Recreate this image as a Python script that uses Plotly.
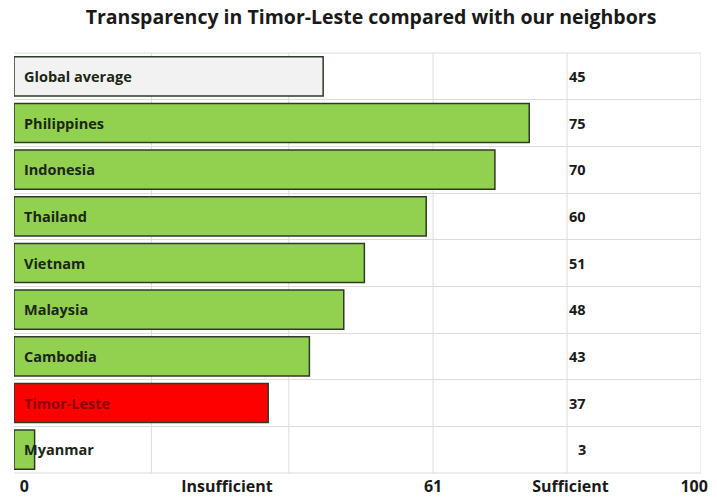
import plotly.graph_objects as go

countries = ["Global average", "Philippines", "Indonesia", "Thailand", "Vietnam",
             "Malaysia", "Cambodia", "Timor-Leste", "Myanmar"]
scores = [45, 75, 70, 60, 51, 48, 43, 37, 3]
fill_colors = ["#f2f2f2", "#92d050", "#92d050", "#92d050", "#92d050",
               "#92d050", "#92d050", "#ff0000", "#92d050"]
label_colors = ["#1c2616"] * 7 + ["#8b0000", "#1c2616"]
tick_vals = [1.5, 31, 61, 81, 99]
tick_text = ["0", "Insufficient", "61", "Sufficient", "100"]
grid_x = [20, 40, 61, 80.5, 100]
value_col_x = 83.5

rows = list(range(len(countries)))

fig = go.Figure()
fig.add_trace(go.Bar(
    x=scores, y=rows, orientation="h", width=0.84,
    marker=dict(color=fill_colors, line=dict(color="#2f3a2a", width=1.5)),
    hoverinfo="skip", showlegend=False,
))

annotations = []
for i, (name, val, col) in enumerate(zip(countries, scores, label_colors)):
    annotations.append(dict(x=0, y=i, xref="x", yref="y", text="<b>" + name + "</b>",
                            showarrow=False, xanchor="left", xshift=8,
                            font=dict(family="Open Sans", size=14.5, color=col)))
    annotations.append(dict(x=value_col_x, y=i, xref="x", yref="y", text="<b>" + str(val) + "</b>",
                            showarrow=False, xanchor="right",
                            font=dict(family="Open Sans", size=14.5, color="#1a1a1a")))

shapes = []
for gx in grid_x:
    shapes.append(dict(type="line", xref="x", yref="paper", x0=gx, x1=gx, y0=0, y1=1,
                       line=dict(color="#dcdcdc", width=1), layer="below"))
shapes.append(dict(type="line", xref="paper", yref="paper", x0=0, x1=1, y0=0, y1=0,
                   line=dict(color="#dcdcdc", width=1), layer="below"))
shapes.append(dict(type="line", xref="paper", yref="paper", x0=0, x1=1, y0=1, y1=1,
                   line=dict(color="#dcdcdc", width=1), layer="below"))

fig.update_layout(
    width=709, height=490,
    margin=dict(l=6, r=16, t=45, b=25, autoexpand=False),
    paper_bgcolor="white", plot_bgcolor="white",
    title=dict(text="<b>Transparency in Timor-Leste compared with our neighbors</b>",
               x=0.512, xanchor="center", y=0.995, yanchor="top",
               font=dict(family="Open Sans", size=19.5, color="#1a1a1a")),
    xaxis=dict(range=[0, 100], showgrid=False, zeroline=False, automargin=False,
               tickvals=tick_vals, ticktext=["<b>" + t + "</b>" for t in tick_text],
               tickfont=dict(family="Open Sans", size=16, color="#1a1a1a"),
               ticks="", showline=False, ticklabelstandoff=2),
    yaxis=dict(range=[8.5, -0.5], showticklabels=False, zeroline=False, automargin=False,
               showgrid=True, gridcolor="#dcdcdc", gridwidth=1,
               tick0=0.5, dtick=1, ticks="", showline=False),
    annotations=annotations,
    shapes=shapes,
)

fig.write_html("out.html")
